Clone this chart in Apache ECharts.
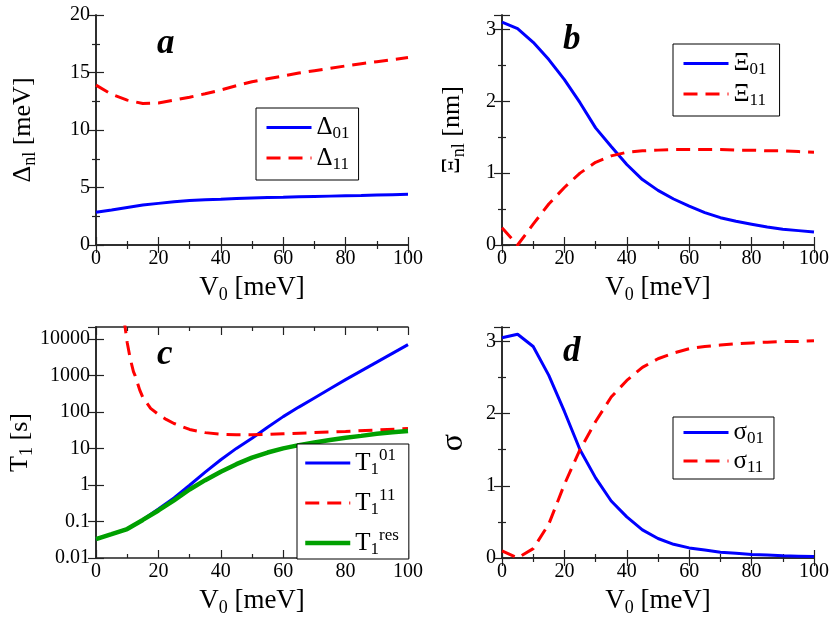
<!DOCTYPE html>
<html><head><meta charset="utf-8">
<script src="https://cdn.jsdelivr.net/npm/echarts@6/dist/echarts.min.js"></script>
<style>html,body{margin:0;padding:0;background:#fff}#c{width:830px;height:642px}</style>
</head><body><div id="c"></div>
<script>
// ---------- data ----------
const V0 = [0,5,10,15,20,25,30,35,40,45,50,55,60,65,70,75,80,85,90,95,100];
// panel a: Delta_nl [meV]
const delta01 = [2.84,3.05,3.27,3.47,3.62,3.76,3.86,3.93,3.98,4.04,4.08,4.12,4.15,4.19,4.22,4.25,4.28,4.31,4.35,4.38,4.41];
const delta11 = [13.9,13.1,12.6,12.3,12.35,12.6,12.85,13.15,13.48,13.85,14.2,14.45,14.7,14.95,15.16,15.37,15.57,15.76,15.94,16.12,16.3];
// panel b: Xi_nl [nm]
const xi01 = [3.10,3.01,2.82,2.58,2.30,1.98,1.63,1.37,1.12,0.91,0.76,0.64,0.54,0.45,0.38,0.33,0.29,0.25,0.22,0.20,0.18];
const xi11 = [0.24,0.0,0.29,0.57,0.80,1.0,1.15,1.24,1.29,1.31,1.32,1.33,1.33,1.33,1.33,1.32,1.32,1.31,1.31,1.30,1.29];
// panel c: T1 [s]
const T01  = [0.033,0.045,0.062,0.112,0.22,0.44,0.98,2.24,4.9,10,19,38,74,135,240,427,760,1320,2290,3980,6920];
const Tres = [0.033,0.045,0.062,0.11,0.2,0.38,0.75,1.35,2.3,3.7,5.6,7.7,10,12.3,14.5,17,19.5,22,25,27.5,30];
const V0_T11 = [9,10,11,12,12.5,14,15,17.5,20,22.5,25,30,35,40,45,50,55,60,70,80,90,100];
const T11  = [34000,7900,2800,1260,1000,400,250,125,85,62,48,33,27,24.5,23.5,23.5,24,25,27,29,32,35];
// panel d: sigma
const sigma01 = [3.05,3.1,2.93,2.53,2.03,1.50,1.11,0.79,0.57,0.39,0.27,0.19,0.14,0.11,0.08,0.065,0.05,0.04,0.03,0.025,0.02];
const sigma11 = [0.10,0.0,0.13,0.47,1.02,1.50,1.89,2.23,2.46,2.64,2.76,2.84,2.90,2.93,2.95,2.97,2.98,2.99,3.0,3.0,3.01];
// labels
const panelLabels = ['a','b','c','d'];
const xTitle = '{m|V}{s|0}{m| [meV]}';
const yTitles = ['{m|Δ}{s|nl}{m| [meV]}','{m|Ξ}{s|nl}{m| [nm]}','{m|T}{s|1}{m| [s]}','{g|σ}'];
const legendNames = {
  'Δ01':'{m|Δ}{s|01}','Δ11':'{m|Δ}{s|11}',
  'Ξ01':'{m|Ξ}{s|01}','Ξ11':'{m|Ξ}{s|11}',
  'T01':'{m|T}{s|1}{p|01}','T11':'{m|T}{s|1}{p|11}','Tres':'{m|T}{s|1}{p|res}',
  'σ01':'{m|σ}{s|01}','σ11':'{m|σ}{s|11}'
};

// ---------- styling ----------
const FONT = 'Liberation Serif';
const BLUE = '#0000ff', RED = '#ff0000', GREEN = '#00a000';
const AX = '#222';
const rich = (big, small) => ({
  m:{fontFamily:FONT,fontSize:big,color:'#000'},
  g:{fontFamily:FONT,fontSize:big+6,color:'#000'},
  s:{fontFamily:FONT,fontSize:small,color:'#000',padding:[Math.round(big*0.5),0,0,0]},
  p:{fontFamily:FONT,fontSize:small,color:'#000',padding:[0,0,Math.round(big*0.6),0]}
});
const grids = [
  {left:96, top:15, width:312, height:230},
  {left:502,top:15, width:312, height:230},
  {left:96, top:327,width:312, height:231},
  {left:502,top:327,width:312, height:231}
].map(g=>Object.assign(g,{containLabel:false,outerBoundsMode:'none'}));
const yCfg = [
  {type:'value',min:0,max:20,interval:5,minor:true},
  {type:'value',min:0,max:3.2,interval:1,minor:true},
  {type:'log',min:0.01,max:21000,logBase:10,minor:false},
  {type:'value',min:0,max:3.2,interval:1,minor:true}
];
const yGap = [57,34,57,32];

const xAxis = [], yAxis = [];
grids.forEach((g,i)=>{
  const base = {gridIndex:i,type:'value',min:0,max:100,interval:20,
    axisLine:{show:true,lineStyle:{color:AX,width:1.5}},
    axisTick:{show:true,inside:true,length:8,lineStyle:{color:AX,width:1.2}},
    minorTick:{show:true,splitNumber:2,length:4,lineStyle:{color:AX,width:1.2}},
    splitLine:{show:false}};
  xAxis.push(Object.assign({},base,{position:'bottom',
    axisLabel:{fontFamily:FONT,fontSize:20,color:'#000',margin:4},
    name:xTitle,nameLocation:'middle',nameGap:27,
    nameTextStyle:{rich:rich(27,18)}}));
  xAxis.push(Object.assign({},base,{position:'top',axisLabel:{show:false}}));
  const y = yCfg[i];
  const yb = {gridIndex:i,type:y.type,min:y.min,max:y.max,
    axisLine:{show:true,lineStyle:{color:AX,width:1.5}},
    axisTick:{show:true,inside:true,length:8,lineStyle:{color:AX,width:1.2}},
    minorTick:{show:y.minor,splitNumber:2,length:4,lineStyle:{color:AX,width:1.2}},
    splitLine:{show:false}};
  if (y.interval) yb.interval = y.interval;
  if (y.logBase) yb.logBase = y.logBase;
  yAxis.push(Object.assign({},yb,{position:'left',
    axisLabel:{fontFamily:FONT,fontSize:20,color:'#000',margin:6,showMaxLabel:i===0,
      formatter:(v)=> y.type==='log' ? String(+v.toPrecision(6)) : String(v)},
    name:yTitles[i],nameLocation:'middle',nameGap:yGap[i],nameRotate:90,
    nameTextStyle:{rich:rich(26,18)}}));
  yAxis.push(Object.assign({},yb,{position:'right',axisLabel:{show:false}}));
});

const LW = 3;
const pairs = (xs,ys)=>xs.map((x,k)=>[x,ys[k]]);
const mk = (name,gi,xs,ys,color,dashed,w)=>({
  name,type:'line',xAxisIndex:gi*2,yAxisIndex:gi*2,data:pairs(xs,ys),
  symbol:'none',showSymbol:false,clip:true,smooth:false,silent:true,animation:false,
  lineStyle:{color,width:w,type:dashed?[14,8]:'solid'},itemStyle:{color}
});
const series = [
  mk('Δ01',0,V0,delta01,BLUE,false,LW),
  mk('Δ11',0,V0,delta11,RED,true,LW),
  mk('Ξ01',1,V0,xi01,BLUE,false,LW),
  mk('Ξ11',1,V0,xi11,RED,true,LW),
  mk('T01',2,V0,T01,BLUE,false,LW),
  mk('T11',2,V0_T11,T11,RED,true,LW),
  mk('Tres',2,V0,Tres,GREEN,false,4.5),
  mk('σ01',3,V0,sigma01,BLUE,false,LW),
  mk('σ11',3,V0,sigma11,RED,true,LW)
];

const li = (name,w)=>({name,lineStyle:{width:w}});
const legBase = {orient:'vertical',selectedMode:false,borderColor:'#000',borderWidth:1,borderRadius:0,
  itemWidth:45,itemHeight:14,backgroundColor:'#fff',
  itemStyle:{opacity:0},
  formatter:(n)=>legendNames[n],
  textStyle:{rich:rich(25,17)}};
const legend = [
  Object.assign({},legBase,{left:256,top:108,data:[li('Δ01',3),li('Δ11',3)],padding:[7,9,7,9],itemGap:3}),
  Object.assign({},legBase,{left:673,top:44,data:[li('Ξ01',3),li('Ξ11',3)],padding:[7,13,7,9],itemGap:3}),
  Object.assign({},legBase,{left:297,top:444,data:[li('T01',3),li('T11',3),li('Tres',4.5)],padding:[3,10,1,6],itemGap:9}),
  Object.assign({},legBase,{left:673,top:417,data:[li('σ01',3),li('σ11',3)],padding:[3,10,3,9],itemGap:1})
];

const labelPos = [[157,26],[563,22],[157,337],[563,334]];
const title = panelLabels.map((t,i)=>({text:t,left:labelPos[i][0],top:labelPos[i][1],padding:0,
  textStyle:{fontFamily:FONT,fontSize:35,fontStyle:'italic',fontWeight:'bold',color:'#000'}}));

const chart = echarts.init(document.getElementById('c'),null,{renderer:'canvas'});
chart.setOption({animation:false,backgroundColor:'#fff',title,grid:grids,xAxis,yAxis,legend,series});
</script></body></html>
